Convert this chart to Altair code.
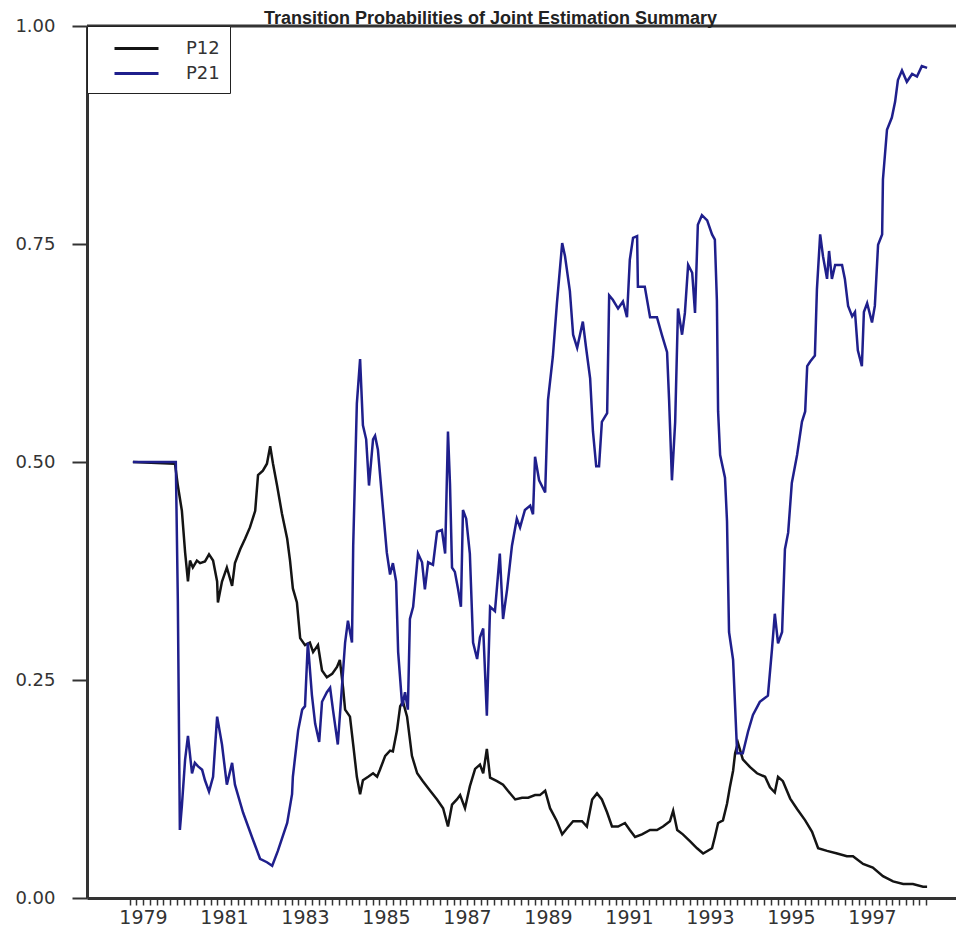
import altair as alt
import pandas as pd

# ---- data ----
series_names = ["P12", "P21"]
series_colors = ["#141414", "#1f1f8c"]

p21_year = [
    1978.75, 1979.81, 1979.86, 1979.91, 1979.96, 1980.04, 1980.11, 1980.21, 1980.28, 1980.36,
    1980.46, 1980.53, 1980.63, 1980.73, 1980.83, 1980.95, 1981.07, 1981.20, 1981.27, 1981.47,
    1981.69, 1981.89, 1982.06, 1982.19, 1982.33, 1982.56, 1982.68, 1982.70, 1982.83, 1982.93,
    1983.00, 1983.07, 1983.17, 1983.25, 1983.35, 1983.42, 1983.54, 1983.62, 1983.69, 1983.81,
    1983.91, 1983.99, 1984.06, 1984.16, 1984.19, 1984.28, 1984.36, 1984.43, 1984.51, 1984.58,
    1984.68, 1984.73, 1984.80, 1984.93, 1985.02, 1985.10, 1985.17, 1985.25, 1985.30, 1985.40,
    1985.47, 1985.54, 1985.59, 1985.67, 1985.79, 1985.89, 1985.96, 1986.04, 1986.16, 1986.26,
    1986.38, 1986.46, 1986.53, 1986.58, 1986.63, 1986.70, 1986.78, 1986.85, 1986.90, 1986.98,
    1987.07, 1987.15, 1987.25, 1987.32, 1987.40, 1987.49, 1987.57, 1987.69, 1987.81, 1987.89,
    1987.99, 1988.11, 1988.23, 1988.31, 1988.43, 1988.56, 1988.63, 1988.68, 1988.78, 1988.93,
    1989.00, 1989.12, 1989.22, 1989.35, 1989.42, 1989.54, 1989.62, 1989.72, 1989.79, 1989.86,
    1989.94, 1990.04, 1990.11, 1990.19, 1990.26, 1990.33, 1990.46, 1990.51, 1990.60, 1990.73,
    1990.85, 1990.95, 1991.02, 1991.10, 1991.20, 1991.22, 1991.39, 1991.52, 1991.69, 1991.81,
    1991.94, 1991.99, 1992.06, 1992.14, 1992.21, 1992.31, 1992.38, 1992.46, 1992.56, 1992.63,
    1992.70, 1992.80, 1992.93, 1993.05, 1993.12, 1993.17, 1993.20, 1993.25, 1993.37, 1993.42,
    1993.47, 1993.57, 1993.67, 1993.81, 1993.94, 1994.06, 1994.23, 1994.43, 1994.53, 1994.60,
    1994.68, 1994.78, 1994.85, 1994.93, 1995.02, 1995.15, 1995.27, 1995.35, 1995.40, 1995.47,
    1995.59, 1995.64, 1995.72, 1995.79, 1995.89, 1995.94, 1996.01, 1996.09, 1996.26, 1996.33,
    1996.41, 1996.51, 1996.58, 1996.65, 1996.75, 1996.80, 1996.88, 1997.00, 1997.07, 1997.15,
    1997.25, 1997.27, 1997.37, 1997.49, 1997.57, 1997.64, 1997.74, 1997.86, 1997.99, 1998.11,
    1998.23, 1998.36,
]
p21_value = [
    0.500, 0.500, 0.340, 0.078, 0.106, 0.159, 0.186, 0.143, 0.155, 0.151,
    0.147, 0.135, 0.122, 0.139, 0.208, 0.176, 0.130, 0.155, 0.130, 0.098,
    0.070, 0.045, 0.041, 0.037, 0.054, 0.086, 0.119, 0.139, 0.192, 0.216,
    0.220, 0.293, 0.233, 0.200, 0.179, 0.225, 0.236, 0.241, 0.216, 0.176,
    0.241, 0.293, 0.318, 0.293, 0.404, 0.567, 0.618, 0.542, 0.526, 0.473,
    0.526, 0.530, 0.514, 0.444, 0.396, 0.371, 0.384, 0.363, 0.282, 0.220,
    0.236, 0.216, 0.320, 0.334, 0.395, 0.385, 0.354, 0.385, 0.382, 0.420,
    0.422, 0.395, 0.535, 0.475, 0.379, 0.374, 0.354, 0.334, 0.445, 0.435,
    0.395, 0.293, 0.274, 0.299, 0.309, 0.209, 0.334, 0.329, 0.395, 0.320,
    0.354, 0.404, 0.435, 0.425, 0.445, 0.450, 0.440, 0.506, 0.479, 0.465,
    0.571, 0.621, 0.682, 0.751, 0.736, 0.696, 0.646, 0.631, 0.646, 0.661,
    0.631, 0.596, 0.535, 0.495, 0.495, 0.546, 0.556, 0.691, 0.686, 0.676,
    0.684, 0.666, 0.732, 0.757, 0.759, 0.701, 0.701, 0.666, 0.666, 0.646,
    0.626, 0.571, 0.479, 0.546, 0.676, 0.646, 0.671, 0.726, 0.717, 0.671,
    0.772, 0.783, 0.777, 0.761, 0.755, 0.685, 0.558, 0.508, 0.482, 0.432,
    0.305, 0.273, 0.166, 0.166, 0.191, 0.210, 0.225, 0.232, 0.285, 0.326,
    0.292, 0.305, 0.400, 0.419, 0.476, 0.508, 0.546, 0.558, 0.610, 0.615,
    0.622, 0.698, 0.761, 0.736, 0.710, 0.742, 0.710, 0.726, 0.726, 0.710,
    0.679, 0.667, 0.672, 0.628, 0.610, 0.672, 0.682, 0.660, 0.679, 0.749,
    0.761, 0.824, 0.881, 0.895, 0.913, 0.938, 0.949, 0.936, 0.945, 0.942,
    0.954, 0.952,
]

p12_year = [
    1978.75, 1979.79, 1979.86, 1979.96, 1980.04, 1980.11, 1980.16, 1980.23, 1980.33, 1980.41,
    1980.53, 1980.63, 1980.73, 1980.83, 1980.85, 1980.95, 1981.07, 1981.20, 1981.27, 1981.40,
    1981.52, 1981.64, 1981.77, 1981.84, 1981.96, 1982.06, 1982.14, 1982.21, 1982.31, 1982.43,
    1982.56, 1982.63, 1982.70, 1982.80, 1982.88, 1983.00, 1983.12, 1983.20, 1983.32, 1983.42,
    1983.54, 1983.67, 1983.79, 1983.86, 1983.94, 1983.99, 1984.11, 1984.19, 1984.28, 1984.36,
    1984.43, 1984.56, 1984.68, 1984.78, 1984.85, 1984.98, 1985.10, 1985.17, 1985.27, 1985.35,
    1985.42, 1985.52, 1985.64, 1985.77, 1985.91, 1986.09, 1986.26, 1986.41, 1986.53, 1986.63,
    1986.75, 1986.83, 1986.95, 1987.07, 1987.20, 1987.32, 1987.40, 1987.49, 1987.57, 1987.74,
    1987.89, 1988.01, 1988.19, 1988.36, 1988.51, 1988.68, 1988.80, 1988.93, 1989.05, 1989.22,
    1989.35, 1989.47, 1989.62, 1989.84, 1989.96, 1990.09, 1990.21, 1990.33, 1990.46, 1990.58,
    1990.73, 1990.90, 1991.02, 1991.15, 1991.32, 1991.52, 1991.69, 1991.84, 1992.01, 1992.09,
    1992.19, 1992.33, 1992.51, 1992.68, 1992.83, 1993.05, 1993.12, 1993.20, 1993.32, 1993.42,
    1993.49, 1993.57, 1993.62, 1993.69, 1993.81, 1993.99, 1994.16, 1994.36, 1994.48, 1994.60,
    1994.68, 1994.80, 1994.98, 1995.15, 1995.35, 1995.52, 1995.67, 1995.89, 1996.14, 1996.38,
    1996.53, 1996.78, 1997.02, 1997.27, 1997.52, 1997.77, 1998.01, 1998.26, 1998.36,
]
p12_value = [
    0.500, 0.498, 0.473, 0.444, 0.396, 0.363, 0.387, 0.379, 0.387, 0.384,
    0.386, 0.394, 0.387, 0.363, 0.339, 0.363, 0.379, 0.358, 0.384, 0.400,
    0.412, 0.425, 0.444, 0.485, 0.490, 0.498, 0.518, 0.498, 0.473, 0.441,
    0.412, 0.387, 0.355, 0.339, 0.298, 0.290, 0.293, 0.282, 0.290, 0.261,
    0.253, 0.257, 0.265, 0.273, 0.241, 0.216, 0.208, 0.176, 0.139, 0.119,
    0.135, 0.139, 0.143, 0.139, 0.147, 0.163, 0.169, 0.168, 0.192, 0.220,
    0.225, 0.208, 0.163, 0.143, 0.134, 0.123, 0.113, 0.103, 0.082, 0.107,
    0.113, 0.118, 0.103, 0.128, 0.148, 0.153, 0.143, 0.171, 0.138, 0.134,
    0.130, 0.123, 0.113, 0.115, 0.115, 0.118, 0.118, 0.123, 0.103, 0.088,
    0.073, 0.080, 0.088, 0.088, 0.082, 0.113, 0.120, 0.113, 0.098, 0.082,
    0.082, 0.086, 0.078, 0.070, 0.073, 0.078, 0.078, 0.082, 0.088, 0.100,
    0.078, 0.073, 0.065, 0.057, 0.051, 0.057, 0.070, 0.086, 0.089, 0.108,
    0.127, 0.146, 0.166, 0.178, 0.159, 0.150, 0.143, 0.139, 0.127, 0.121,
    0.139, 0.134, 0.114, 0.102, 0.089, 0.076, 0.057, 0.054, 0.051, 0.048,
    0.048, 0.039, 0.035, 0.025, 0.019, 0.016, 0.016, 0.013, 0.013,
]

y_ticks = [0.0, 0.25, 0.5, 0.75, 1.0]
year_labels = [1979, 1981, 1983, 1985, 1987, 1989, 1991, 1993, 1995, 1997]
x_domain = [1977.617, 1999.074]
# bimonthly tick marks along the date axis
x_ticks = [round(1979 + k / 6, 4) for k in range(-2, 117)]

title_text = "Transition Probabilities of Joint Estimation Summary"

df = pd.concat([
    pd.DataFrame({"year": p12_year, "value": p12_value, "series": "P12"}),
    pd.DataFrame({"year": p21_year, "value": p21_value, "series": "P21"}),
], ignore_index=True)

label_list = "[" + ",".join(str(y) for y in year_labels) + "]"
label_expr = (
    f"(abs(datum.value - round(datum.value)) < 0.01 && indexof({label_list}, round(datum.value)) >= 0)"
    " ? toString(round(datum.value)) : ''"
)

x_enc = alt.X(
    "year:Q",
    scale=alt.Scale(domain=x_domain, nice=False, zero=False),
    axis=alt.Axis(
        values=x_ticks, labelExpr=label_expr, title=None, grid=False,
        tickSize=7, tickWidth=1.5, tickColor="#333333",
        labelFontSize=19, labelFont="DejaVu Sans", labelColor="#333333",
        labelPadding=3, labelOverlap=False, labelFlush=False, labelBound=False,
        domainWidth=3, domainColor="#333333",
    ),
)
y_enc = alt.Y(
    "value:Q",
    scale=alt.Scale(domain=[0, 1], nice=False, zero=False),
    axis=alt.Axis(
        values=y_ticks, format=".2f", title=None, grid=False,
        tickSize=15, tickWidth=2, tickColor="#333333",
        labelFontSize=18, labelFont="DejaVu Sans", labelColor="#333333",
        labelPadding=17, domainWidth=3, domainColor="#333333",
    ),
)

lines = alt.Chart(df).mark_line(strokeWidth=2.5).encode(
    x=x_enc,
    y=y_enc,
    color=alt.Color(
        "series:N",
        scale=alt.Scale(domain=series_names, range=series_colors),
        legend=alt.Legend(
            title=None, orient="top-left", offset=0,
            strokeColor="#222222", fillColor="white", padding=10,
            symbolType="M-2,0H2", symbolSize=484, symbolStrokeWidth=3,
            labelFontSize=18, labelFont="DejaVu Sans", labelColor="#333333",
            labelOffset=37, rowPadding=3, symbolOffset=27,
        ),
    ),
    order="year:Q",
)

top_border = alt.Chart(pd.DataFrame({"value": [1.0]})).mark_rule(
    color="#333333", strokeWidth=3
).encode(y=alt.Y("value:Q"))

chart = alt.layer(top_border, lines).properties(
    width=869,
    height=872,
    autosize=alt.AutoSizeParams(type="none"),
    padding={"top": 18, "left": 79, "right": 0, "bottom": 30},
    title=alt.TitleParams(
        title_text, font="Liberation Sans", fontSize=18, fontWeight="bold",
        color="#222222", anchor="middle", dx=-31, offset=-25, baseline="alphabetic",
    ),
).configure_view(stroke=None).configure_legend(strokeWidth=2).configure(background="white")

chart.save("out.html", embed_options={"renderer": "svg", "actions": False})
